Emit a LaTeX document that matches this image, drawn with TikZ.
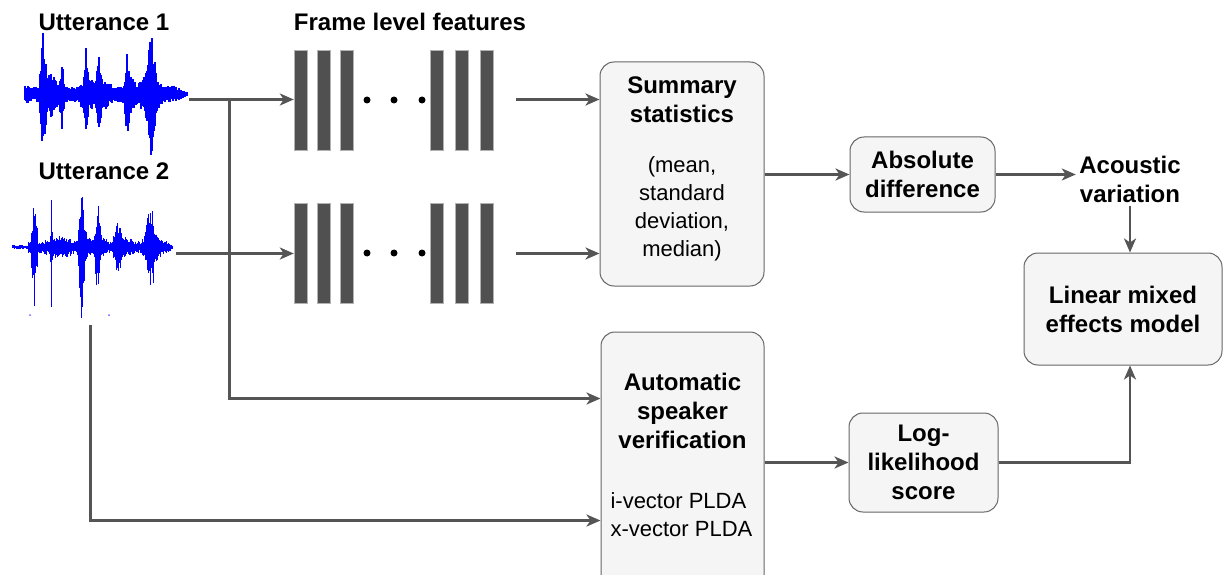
\documentclass[tikz,border=0pt]{standalone}
\usepackage{fontspec}
\setmainfont{Liberation Sans}
\usetikzlibrary{arrows.meta}
\definecolor{boxfill}{HTML}{F5F5F5}
\definecolor{boxline}{HTML}{666666}
\definecolor{arrc}{HTML}{555555}
\definecolor{barc}{HTML}{505050}
\definecolor{wavec}{HTML}{0000FF}
\tikzset{
  box/.style={draw=boxline, fill=boxfill, rounded corners=14pt, line width=1pt, align=center, inner sep=0pt},
  bt/.style={font=\bfseries\fontsize{24}{29}\selectfont, align=center},
  rt/.style={font=\fontsize{22}{28}\selectfont, align=center},
  arr/.style={draw=arrc, line width=2.5pt, -{Stealth[length=14pt,width=12pt,inset=4pt]}},
  bar/.style={fill=barc, draw=black!30, line width=0.6pt},
  wave/.style={draw=wavec, line width=1.2pt},
  grp/.style={inner sep=0pt, minimum width=200pt, minimum height=100pt},
}
\begin{document}
\begin{tikzpicture}[x=1pt,y=-1pt]
\useasboundingbox (0,0) rectangle (1223,575);
\clip (0,0) rectangle (1223,575);
% titles
\node[bt] (u1) at (104,22) {Utterance 1};
\node[bt] (u2) at (104,171) {Utterance 2};
\node[bt] (flf) at (410,22) {Frame level features};
% waveforms
\pgfmathsetseed{7}
\foreach \i in {25,...,187}{
  \pgfmathsetmacro\env{(\i<29 ? 9 : (\i>172 ? 2+(187-\i)*0.5 : 8))
    + 16*max(0,1-abs(\i-50)/10) + 10*max(0,1-abs(\i-88)/12) + 10*max(0,1-abs(\i-103)/10)
    + 12*max(0,1-abs(\i-130)/8) + 18*max(0,1-abs(\i-150)/14)
    + 50*max(0,1-abs(\i-43)/4) + 30*max(0,1-abs(\i-62)/3) + 32*max(0,1-abs(\i-86)/3)
    + 30*max(0,1-abs(\i-99)/3) + 28*max(0,1-abs(\i-127)/3) + 40*max(0,1-abs(\i-151)/6)}
  \pgfmathsetmacro\up{\env*(0.55+0.45*rnd)}
  \pgfmathsetmacro\dn{1.05*\env*(0.55+0.45*rnd)}
  \draw[wave] (\i,94-\up) -- (\i,94+\dn);
}
\foreach \i in {12,...,172}{
  \pgfmathsetmacro\env{(\i<28 ? 2 : (\i>164 ? 2+(172-\i)*0.7 : 6))
    + 8*max(0,1-abs(\i-58)/16) + 16*max(0,1-abs(\i-83)/8) + 10*max(0,1-abs(\i-99)/9)
    + 8*max(0,1-abs(\i-122)/12) + 12*max(0,1-abs(\i-152)/12)
    + 56*max(0,1-abs(\i-34)/4) + 62*max(0,1-abs(\i-51)/1.2) + 52*max(0,1-abs(\i-81)/4)
    + 36*max(0,1-abs(\i-97)/4) + 24*max(0,1-abs(\i-117)/5) + 28*max(0,1-abs(\i-150)/7)}
  \pgfmathsetmacro\up{\env*(0.45+0.55*rnd)}
  \pgfmathsetmacro\dn{1.1*\env*(0.45+0.55*rnd)}
  \draw[wave, line width=1pt] (\i,247-\up) -- (\i,247+\dn);
}
\fill[wavec!60] (30,315) circle (1);
\fill[wavec!60] (109,315) circle (1);
% frame level feature bars
\node[grp] (f1) at (394,100) {};
\node[grp] (f2) at (394,253) {};
\foreach \x in {294,317,340,430,455,480}{
  \draw[bar] (\x,50) rectangle ++(13.5,100);
  \draw[bar] (\x,203) rectangle ++(13.5,100);
}
\foreach \x in {367,394,422}{
  \fill (\x,100) circle (3.5);
  \fill (\x,253) circle (3.5);
}
% boxes
\node[box, minimum width=164pt, minimum height=224pt] (sum) at (682,174) {};
\node[bt] (sumt) at (682,100) {Summary\\statistics};
\node[rt] (sumd) at (682,209) {(mean,\\standard\\deviation,\\median)};
\node[box, bt, minimum width=145pt, minimum height=75pt] (abs) at (922.5,174.5) {Absolute\\difference};
\node[bt] (acv) at (1130,179) {Acoustic\\variation};
\node[box, bt, minimum width=198pt, minimum height=112pt] (lme) at (1123,309) {Linear mixed\\effects model};
\node[box, minimum width=163pt, minimum height=260pt] (asv) at (682.5,462) {};
\node[bt] (asvt) at (682.5,411) {Automatic\\speaker\\verification};
\node[rt, align=left, anchor=west] (asvd) at (607,515) {i-vector PLDA\\x-vector PLDA};
\node[box, bt, minimum width=149pt, minimum height=99pt] (log) at (923.5,462.5) {Log-\\likelihood\\score};
% connectors
\coordinate (w1o) at (189,99.5);
\coordinate (w2o) at (176,253.5);
\coordinate (j1) at (229.5,99.5);
\coordinate (w2d) at (90.5,325);
\coordinate (f1o) at (516,99.5);
\coordinate (f2o) at (516,253.5);
\draw[arr] (w1o) -- (w1o -| f1.west);
\draw[arr] (w2o) -- (w2o -| f2.west);
\draw[arr] (f1o) -- (f1o -| sum.west);
\draw[arr] (f2o) -- (f2o -| sum.west);
\draw[arr] (j1) |- (asv.west |- 0,398.5);
\draw[arr] (w2d) |- (asv.west |- 0,520.5);
\draw[arr] (sum.east |- abs.west) -- (abs.west);
\draw[arr] (abs.east) -- (abs.east -| acv.west);
\draw[arr] (acv.south) -- (acv.south |- lme.north);
\draw[arr] (log.west -| asv.east) -- (log.west);
\draw[arr] (log.east) -| (acv.south |- lme.south);
\end{tikzpicture}
\end{document}
